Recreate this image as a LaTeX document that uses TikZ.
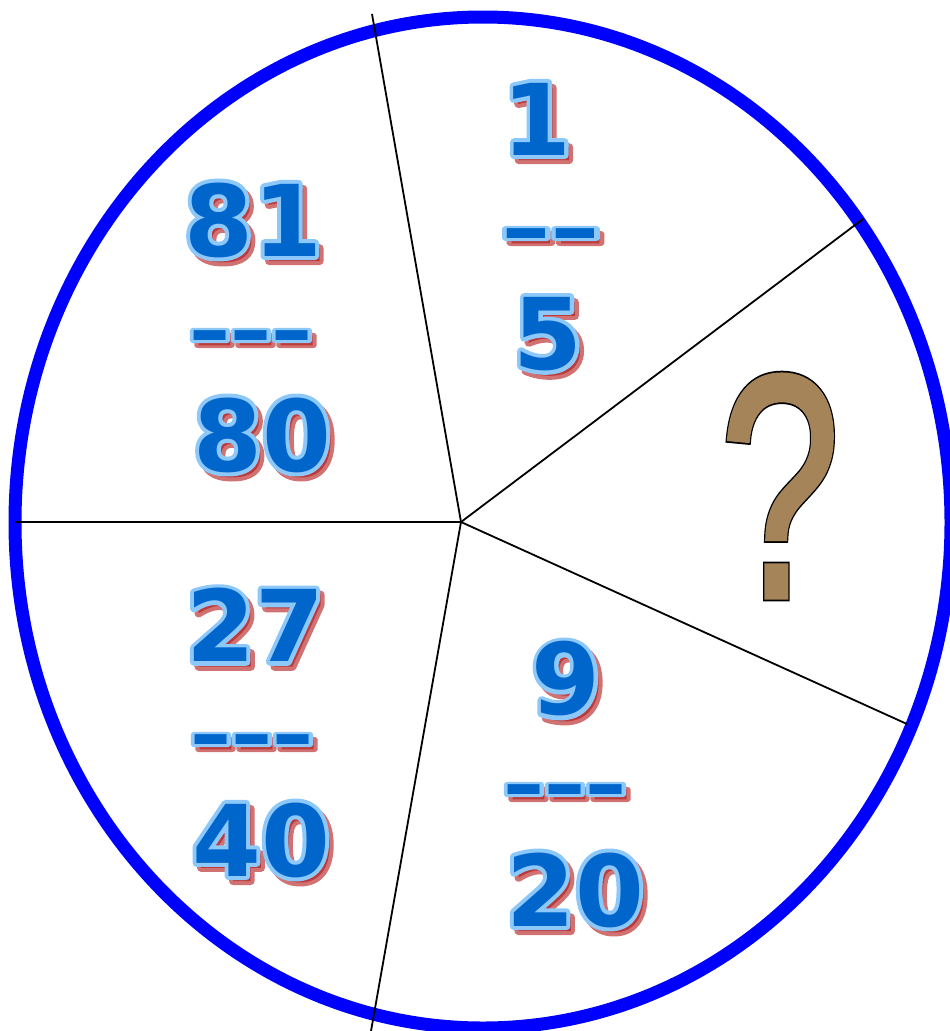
\documentclass[tikz,border=0pt]{standalone}
\usepackage{fontspec}
\usepackage{graphicx}
\newfontfamily\numfont{DejaVu Sans Bold}
\newfontfamily\qfont{Liberation Sans}
\definecolor{ringblue}{RGB}{0,0,255}
\definecolor{numblue}{RGB}{0,102,204}
\definecolor{numedge}{RGB}{140,200,250}
\definecolor{numshadow}{RGB}{180,20,20}
\definecolor{qbrown}{RGB}{165,132,90}
\tikzset{
  numtext/.style={font=\numfont\fontsize{99}{99}\selectfont, inner sep=0pt, outer sep=0pt},
  qtext/.style={font=\qfont\fontsize{318}{318}\selectfont, inner sep=0pt, outer sep=0pt},
  spoke/.style={draw=black, line width=1.8pt},
  ring/.style={draw=ringblue, line width=13pt}
}
% text render mode helpers: #1 mode, #2 stroke width, #3 stroke colour (rgb), #4 line join
\newcommand\trmode[4][1]{\special{pdf:literal #2 Tr #3 w #1 j #4 RG}}
\newcommand\trreset{\special{pdf:literal 0 Tr 0 j}}
% #1 name, #2 position, #3 text
\newcommand\fancynum[3]{%
  \node[numtext, text=numshadow, opacity=0.6, xshift=4.5, yshift=-5] (#1-s) at (#2)
     {\trmode{2}{8}{0.7 0.08 0.08}#3\trreset};
  \node[numtext, text=numedge] (#1-o) at (#2)
     {\trmode{1}{8}{0.549 0.784 0.98}#3\trreset};
  \node[numtext, text=numblue] (#1) at (#2) {#3};
}
\newcommand\dashes[1]{\scalebox{1.05}[0.7]{#1}}
\begin{document}
\begin{tikzpicture}[x=1pt,y=-1pt]
  \useasboundingbox (0,0) rectangle (950,1031);
  \fill[white] (0,0) rectangle (950,1031);
  % ring
  \draw[ring] (483,522.5) ellipse [x radius=468, y radius=505.5];
  % spokes
  \coordinate (c) at (461,522);
  \coordinate (e1) at (372,14);
  \coordinate (e2) at (863,219);
  \coordinate (e3) at (907,724);
  \coordinate (e4) at (371,1031);
  \coordinate (e5) at (15,522);
  \foreach \e in {e1,e2,e3,e4,e5}{ \draw[spoke] (c) -- (\e); }
  % fractions
  \fancynum{n81}{253,220}{81}
  \fancynum{d1}{251,343}{\dashes{-\kern-2pt-\kern-2pt-}}
  \fancynum{n80}{262,435}{80}
  \fancynum{n1}{537,119}{1}
  \fancynum{d2}{551,241}{\dashes{\scalebox{1.2}[1]{-\kern-2pt-}}}
  \fancynum{n5}{548,334}{5}
  \fancynum{n27}{255,625}{27}
  \fancynum{d3}{252,747}{\dashes{-\kern-2pt-\kern-2pt-}}
  \fancynum{n40}{261,840}{40}
  \fancynum{n9}{566,679}{9}
  \fancynum{d4}{565,797}{\dashes{-\kern-2pt-\kern-2pt-}}
  \fancynum{n20}{575,890}{20}
  % question mark: black rim under a thickened brown glyph
  \node[qtext, text=black] (q-o) at (780,486)
     {\scalebox{0.68}[1]{\trmode[0]{2}{8.5}{0 0 0}?\trreset}};
  \node[qtext, text=qbrown] (q) at (780,486)
     {\scalebox{0.68}[1]{\trmode[0]{2}{5}{0.647 0.518 0.353}?\trreset}};
\end{tikzpicture}
\end{document}
